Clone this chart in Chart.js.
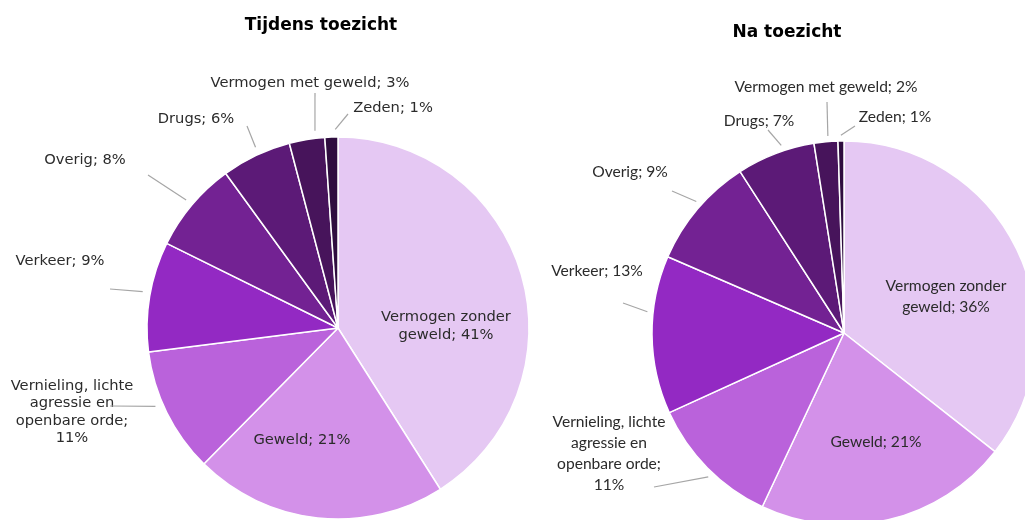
<!DOCTYPE html>
<html>
<head>
<meta charset="utf-8">
<script src="https://cdn.jsdelivr.net/npm/chart.js@4.4.1/dist/chart.umd.min.js"></script>
<style>
  html, body { margin: 0; padding: 0; width: 1025px; height: 520px; overflow: hidden; background: #fff; }
  .vlak { position: absolute; left: 0; top: 0; }
  .titel { position: absolute; width: 240px; text-align: center; font-family: "DejaVu Sans", Verdana, sans-serif;
           font-weight: bold; font-size: 17px; line-height: 20px; color: #000; z-index: 5; }
</style>
</head>
<body>
<div class="titel" style="left:201px; top:14px;">Tijdens toezicht</div>
<div class="titel" style="left:667px; top:21px;">Na toezicht</div>
<canvas id="pie1" class="vlak" width="1100" height="560"></canvas>
<canvas id="pie2" class="vlak" width="1100" height="560"></canvas>
<script>
// categorieen, met de klok mee vanaf boven
var categorieen = ["Vermogen zonder geweld", "Geweld", "Vernieling, lichte agressie en openbare orde",
                   "Verkeer", "Overig", "Drugs", "Vermogen met geweld", "Zeden"];
var tijdensToezicht = [41.0, 21.4, 10.6, 9.3, 7.7, 5.9, 3.0, 1.1];
var naToezicht = [35.6, 21.4, 11.2, 13.3, 9.4, 6.6, 2.0, 0.5];
var kleuren = ["#e5c8f3", "#d391e9", "#ba62db", "#9329c3", "#732293", "#5c1a77", "#47145b", "#2f0d3f"];

// ligging van de labels t.o.v. het middelpunt (px), eind van de verbindingslijn, plek op de taartpunt
var opmaakLinks = [
    { tx: 108, ty: -2, maxW: 140 },
    { tx: -36, ty: 112 },
    { tx: -266, ty: 84, lijn: [-228, 78], frac: 0.58, maxW: 128 },
    { tx: -278, ty: -67, lijn: [-228, -39], frac: 0.53 },
    { tx: -253, ty: -168, lijn: [-190, -153], frac: 0.5 },
    { tx: -142, ty: -209, lijn: [-91, -202], frac: 0.54 },
    { tx: -28, ty: -245, lijn: [-23, -235], frac: 0.75 },
    { tx: 55, ty: -220, lijn: [10, -214], frac: 0.8 }
];
var opmaakRechts = [
    { tx: 102, ty: -37, maxW: 135 },
    { tx: 32, ty: 109 },
    { tx: -235, ty: 120, lijn: [-190, 154], frac: 0.45, maxW: 130 },
    { tx: -247, ty: -62, lijn: [-221, -30], frac: 0.64 },
    { tx: -214, ty: -161, lijn: [-172, -142], frac: 0.54 },
    { tx: -85, ty: -212, lijn: [-76, -203], frac: 0.6 },
    { tx: -18, ty: -246, lijn: [-17, -231], frac: 0.6 },
    { tx: 51, ty: -216, lijn: [11, -207], frac: 0.5 }
];

var BREED = 1100, HOOG = 560, RAND = 1.5;

// padding zodat de taart op (cx, cy) met straal r uitkomt
function padding(cx, cy, r) {
    var half = r + RAND / 2;
    return { left: cx - half, top: cy - half, right: BREED - (cx + half), bottom: HOOG - (cy + half) };
}

function afbreken(ctx, tekst, maxW) {
    var woorden = tekst.split(" ");
    var regels = [];
    var regel = "";
    woorden.forEach(function (w) {
        var probeer = regel ? regel + " " + w : w;
        if (regel && ctx.measureText(probeer).width > maxW) {
            regels.push(regel);
            regel = w;
        } else {
            regel = probeer;
        }
    });
    regels.push(regel);
    return regels;
}

function labelPlugin(opmaak, font, regelHoogte, lijnStart) {
    return {
        id: "taartLabels",
        afterDatasetsDraw: function (chart) {
            var ctx = chart.ctx;
            var meta = chart.getDatasetMeta(0);
            var data = chart.data.datasets[0].data;
            var totaal = data.reduce((a, b) => a + b, 0);
            ctx.save();
            ctx.font = font;
            ctx.fillStyle = "#2b2b2b";
            ctx.textAlign = "center";
            ctx.textBaseline = "middle";
            meta.data.forEach(function (arc, i) {
                var l = opmaak[i];
                var tekst = chart.data.labels[i] + "; " + Math.round(data[i] / totaal * 100) + "%";
                var regels = afbreken(ctx, tekst, l.maxW || 999);
                var y0 = arc.y + l.ty - (regels.length - 1) * regelHoogte / 2;
                regels.forEach(function (r, k) {
                    ctx.fillText(r, arc.x + l.tx, y0 + k * regelHoogte);
                });
                if (l.lijn) {
                    var hoek = arc.startAngle + l.frac * (arc.endAngle - arc.startAngle);
                    var rIn = arc.outerRadius * lijnStart;
                    ctx.beginPath();
                    ctx.moveTo(arc.x + Math.cos(hoek) * rIn, arc.y + Math.sin(hoek) * rIn);
                    ctx.lineTo(arc.x + l.lijn[0], arc.y + l.lijn[1]);
                    ctx.strokeStyle = "#a6a6a6";
                    ctx.lineWidth = 1.2;
                    ctx.stroke();
                }
            });
            ctx.restore();
        }
    };
}

function maakTaart(id, waarden, cx, cy, r, opmaak, font, regelHoogte, lijnStart) {
    return new Chart(document.getElementById(id).getContext("2d"), {
        type: "pie",
        data: {
            labels: categorieen,
            datasets: [{ data: waarden, backgroundColor: kleuren, borderColor: "#ffffff", borderWidth: RAND }]
        },
        options: {
            responsive: false,
            animation: false,
            devicePixelRatio: 1,
            layout: { padding: padding(cx, cy, r) },
            plugins: { legend: { display: false }, tooltip: { enabled: false }, title: { display: false } }
        },
        plugins: [labelPlugin(opmaak, font, regelHoogte, lijnStart)]
    });
}

var taart1 = maakTaart("pie1", tijdensToezicht, 338, 328, 191, opmaakLinks, "14.7px 'DejaVu Sans'", 17.5, 1.04);
var taart2 = maakTaart("pie2", naToezicht, 844, 333, 192, opmaakRechts, "15.6px Lato", 21, 1.03);
</script>
</body>
</html>
